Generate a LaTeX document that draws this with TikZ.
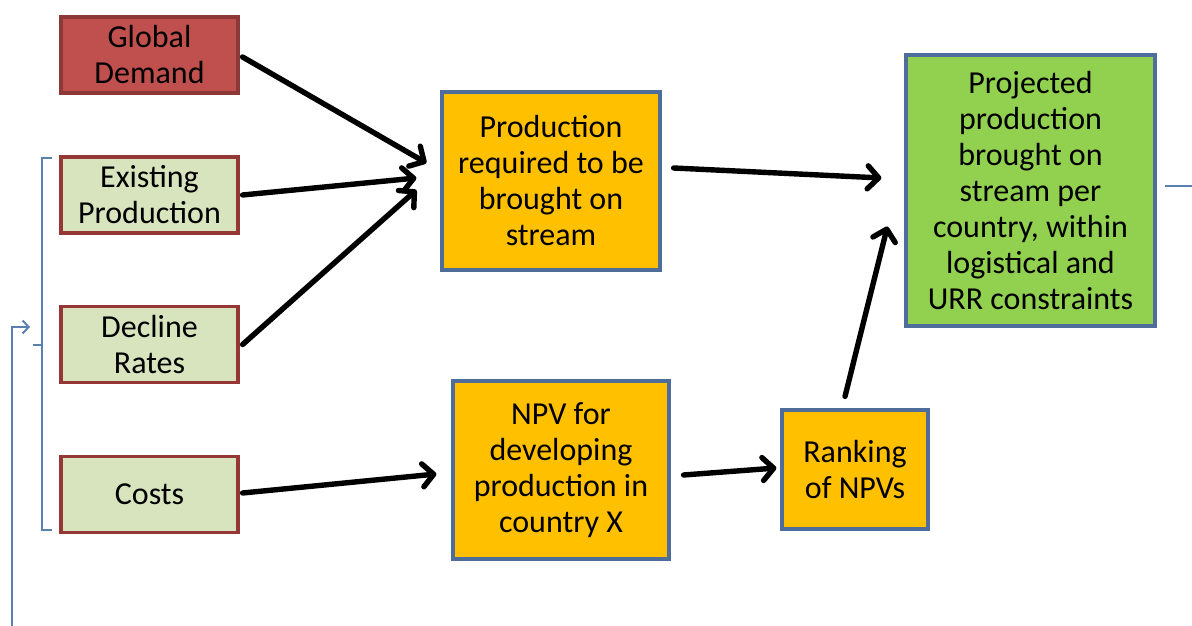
\documentclass[tikz,border=0pt]{standalone}
\usepackage{fontspec}
\setmainfont{Carlito}
\usetikzlibrary{arrows.meta,calc}

\definecolor{demandfill}{HTML}{C0504D}
\definecolor{demandline}{HTML}{8C3836}
\definecolor{inputfill}{HTML}{D7E4BD}
\definecolor{inputline}{HTML}{953735}
\definecolor{procfill}{HTML}{FFC000}
\definecolor{procline}{HTML}{4F6D9A}
\definecolor{resultfill}{HTML}{92D050}
\definecolor{bracketblue}{HTML}{5A80B0}

\tikzset{
  box/.style={draw, line width=3.2pt, align=center, inner sep=0pt,
    font=\fontsize{32}{36}\selectfont, text=black},
  demand/.style={box, fill=demandfill, draw=demandline},
  inputbox/.style={box, fill=inputfill, draw=inputline},
  procbox/.style={box, fill=procfill, draw=procline},
  resultbox/.style={box, fill=resultfill, draw=procline},
  arr/.style={line width=5.4pt, draw=black, line cap=round,
    -{Straight Barb[length=11pt,width=23pt,line width=5.4pt,round]}},
  thinblue/.style={line width=2pt, draw=bracketblue},
}

\begin{document}
\begin{tikzpicture}[x=1pt,y=1pt]
\useasboundingbox (0,0) rectangle (1192,626);

% input boxes on the left
\node[demand, minimum width=177pt, minimum height=76pt] (gd) at (149.5,571) {Global\\Demand};
\node[inputbox, minimum width=177pt, minimum height=76pt] (ep) at (149.5,431) {Existing\\Production};
\node[inputbox, minimum width=177pt, minimum height=76pt] (dr) at (149.5,281.5) {Decline\\Rates};
\node[inputbox, minimum width=177pt, minimum height=76pt] (co) at (149.5,131.5) {Costs};

% processing boxes
\node[procbox, minimum width=218pt, minimum height=178pt] (pr) at (551,445)
  {Production\\required to be\\brought on\\stream};
\node[procbox, minimum width=216pt, minimum height=178pt] (npv) at (561,156)
  {NPV for\\developing\\production in\\country X};
\node[procbox, minimum width=146pt, minimum height=119pt] (rk) at (855,156.5)
  {Ranking\\of NPVs};

% result box
\node[resultbox, minimum width=249pt, minimum height=271pt] (pj) at (1030.5,435.5)
  {Projected\\production\\brought on\\stream per\\country, within\\logistical and\\URR constraints};

% connectors
\draw[arr] ([xshift=3pt,yshift=-2pt]gd.east) -- ([xshift=-14pt,yshift=18pt]pr.west);
\draw[arr] ([xshift=3pt]ep.east) -- ([xshift=-24pt,yshift=3pt]pr.west);
\draw[arr] ([xshift=3pt]dr.east) -- ([xshift=-24pt,yshift=-9pt]pr.west);
\draw[arr] ([xshift=3pt,yshift=1.5pt]co.east) -- ([xshift=-15pt,yshift=-4pt]npv.west);
\draw[arr] ([xshift=12pt,yshift=13pt]pr.east) -- ([xshift=-23pt,yshift=12.5pt]pj.west);
\draw[arr] ([xshift=13pt,yshift=-5pt]npv.east) -- ([xshift=-4pt,yshift=1.5pt]rk.west);
\draw[arr] ([xshift=-10pt,yshift=12pt]rk.north) -- ([xshift=-17pt,yshift=-36pt]pj.west);

% bracket grouping the supply-side inputs
\draw[thinblue] (52,468) -- (42,468) -- (42,96) -- (52,96);
\draw[thinblue] (42,281) -- (33,281);

% feedback line entering the bracket
\coordinate (fbstart) at (12,0);
\coordinate (fbcorner) at (12,299);
\coordinate (fbend) at (30,299);
\draw[thinblue, -{Straight Barb[length=6pt,width=13pt,line width=2pt]}]
  (fbstart) -- (fbcorner) -- (fbend);

% outgoing line on the right
\coordinate (outend) at (1192,440);
\draw[thinblue] ([xshift=8pt,yshift=4.5pt]pj.east) -- (outend);
\end{tikzpicture}
\end{document}
